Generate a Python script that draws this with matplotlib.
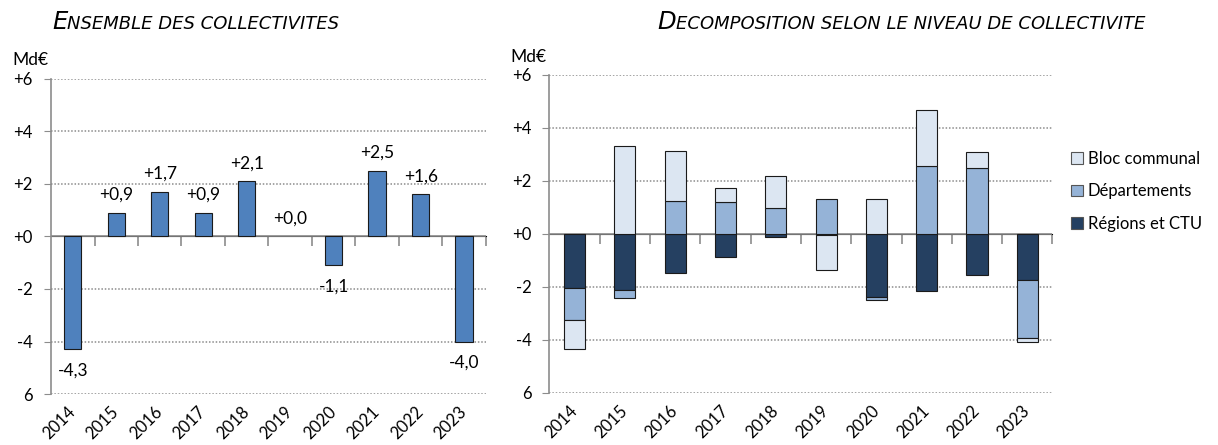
import numpy as np
import matplotlib.pyplot as plt
from matplotlib.patches import Patch

plt.rcParams['font.family'] = ['Lato', 'DejaVu Sans']

years = ['2014', '2015', '2016', '2017', '2018', '2019', '2020', '2021', '2022', '2023']
total = [-4.3, 0.9, 1.7, 0.9, 2.1, 0.0, -1.1, 2.5, 1.6, -4.0]

# decomposition (Md€)
regions = [-2.05, -2.12, -1.48, -0.85, -0.12, -0.05, -2.38, -2.15, -1.55, -1.73]
departements = [-1.18, -0.30, 1.23, 1.22, 0.98, 1.33, -0.10, 2.58, 2.50, -2.18]
bloc = [-1.10, 3.32, 1.92, 0.53, 1.20, -1.32, 1.33, 2.09, 0.61, -0.17]

yticks = [6, 4, 2, 0, -2, -4, -6]
ytick_labels = ['+6', '+4', '+2', '+0', '-2', '-4', '6']

GRAY = '#8c8c8c'
C_TOTAL = '#4f81bd'
C_BLOC = '#dce6f2'
C_DEP = '#95b3d7'
C_REG = '#254061'


def style_axes(ax):
    n = len(years)
    ax.set_xlim(-0.5, n - 0.5)
    ax.set_ylim(-6, 6)
    ax.set_yticks(yticks)
    ax.set_yticklabels(ytick_labels, fontsize=12)
    for y in yticks:
        if y != 0:
            ax.axhline(y, color=GRAY, lw=1.1, ls=(0, (1, 1.2)), zorder=0)
    ax.axhline(0, color=GRAY, lw=1.2, zorder=1)
    for s in ['top', 'right', 'bottom']:
        ax.spines[s].set_visible(False)
    ax.spines['left'].set_color(GRAY)
    ax.spines['left'].set_linewidth(1.2)
    ax.tick_params(axis='y', length=5, color=GRAY, pad=8)
    ax.set_xticks(range(n))
    ax.set_xticklabels(years, fontsize=12, rotation=45, ha='right',
                       rotation_mode='anchor', va='center')
    ax.tick_params(axis='x', length=0, pad=11)
    # tick marks between categories on the zero line
    sec = ax.secondary_xaxis(0.5)
    sec.set_xticks(np.arange(n) + 0.5)
    sec.set_xticklabels([])
    sec.tick_params(length=7, color=GRAY, width=1.2, direction='in')
    sec.spines['bottom'].set_visible(False)


def smallcaps_title(fig, x, y, first, rest, big=17.5, small=13):
    fam = ['DejaVu Sans']
    t = fig.text(x, y, first, fontsize=big, style='italic', va='baseline', family=fam)
    fig.canvas.draw()
    bb = t.get_window_extent()
    fig.text(bb.x1 / fig.dpi / fig.get_figwidth(), y, rest.upper(), fontsize=small,
             style='italic', va='baseline', family=fam)


fig = plt.figure(figsize=(12.18, 4.45), dpi=100)
ax1 = fig.add_axes([0.0419, 0.1146, 0.357, 0.7079])
ax2 = fig.add_axes([0.4511, 0.1169, 0.4130, 0.7146])

# left: total
x = np.arange(len(years))
edges = ['#1a1a1a' if v != 0 else 'none' for v in total]
ax1.bar(x, total, width=0.4, color=C_TOTAL, edgecolor=edges, linewidth=0.8, zorder=2)
for xi, v in zip(x, total):
    lab = f'{v:+.1f}'.replace('.', ',')
    off = 13 if v >= 0 else -15
    ax1.annotate(lab, (xi, v), xytext=(0, off), textcoords='offset points',
                 ha='center', va='center', fontsize=12.5)
style_axes(ax1)

# right: stacked decomposition
pos = np.zeros(len(years))
neg = np.zeros(len(years))
handles = []
for vals, col, name in [(regions, C_REG, 'Régions et CTU'),
                        (departements, C_DEP, 'Départements'),
                        (bloc, C_BLOC, 'Bloc communal')]:
    vals = np.array(vals)
    bottom = np.where(vals >= 0, pos, neg)
    ax2.bar(x, vals, bottom=bottom, width=0.42, color=col, edgecolor='#1a1a1a',
            linewidth=0.8, zorder=2)
    pos = pos + np.clip(vals, 0, None)
    neg = neg + np.clip(vals, None, 0)
    handles.append(Patch(facecolor=col, edgecolor='#555555', linewidth=0.8, label=name))
style_axes(ax2)

fig.legend(handles=handles[::-1], loc='upper left', bbox_to_anchor=(0.867, 0.695),
           frameon=False, fontsize=12, handlelength=0.7, handleheight=0.7,
           handletextpad=0.3, labelspacing=1.0)

fig.text(0.010, 0.855, 'Md€', fontsize=12.5)
fig.text(0.419, 0.86, 'Md€', fontsize=12.5)

smallcaps_title(fig, 0.0427, 0.934, 'E', 'nsemble des collectivites')
smallcaps_title(fig, 0.5394, 0.934, 'D', 'ecomposition selon le niveau de collectivite')

fig.savefig('out.png', dpi=100)
